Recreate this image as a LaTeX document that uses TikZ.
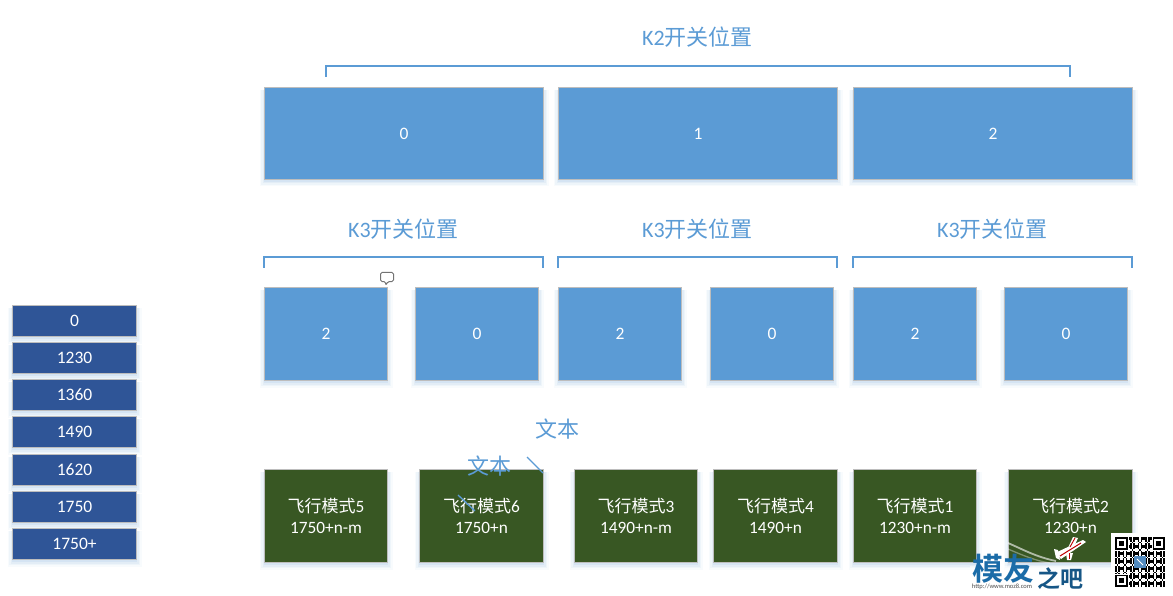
\documentclass[tikz,border=0pt]{standalone}
\usepackage{fontspec}
\setmainfont{Carlito}
\newfontfamily\cjk{Noto Sans CJK SC}
\newfontfamily\cjkb{Noto Sans CJK SC Bold}
\usetikzlibrary{positioning}
\definecolor{cblue}{HTML}{5B9BD5}
\definecolor{cgreen}{HTML}{385723}
\definecolor{cnavy}{HTML}{2F5597}
\definecolor{cedge}{HTML}{BDBDBD}
\definecolor{cshadow}{HTML}{5B9BD5}
\definecolor{clogo}{HTML}{1B6CA8}
\tikzset{
  x=1pt,y=-1pt,
  cell/.style={draw=cedge,line width=0.9pt,inner sep=0pt,align=center,text=white,font=\fontsize{17.5}{20}\selectfont},
  bluecell/.style={cell,fill=cblue},
  greencell/.style={cell,fill=cgreen,font=\fontsize{17.3}{21.5}\selectfont},
  navycell/.style={cell,fill=cnavy,font=\fontsize{17.5}{20}\selectfont},
  bracketline/.style={draw=cblue,line width=2pt,line join=miter},
  bluetext/.style={text=cblue,inner sep=0pt,font=\fontsize{22}{24}\selectfont},
  strokeline/.style={draw=cblue,line width=1.3pt},
  qr/.style={fill=black,draw=none},
}
\newcommand{\bx}[7]{%
  \pgfmathsetmacro{\bw}{#4-#2-0.9}\pgfmathsetmacro{\bh}{#5-#3-0.9}%
  \pgfmathsetmacro{\bcx}{(#2+#4)/2}\pgfmathsetmacro{\bcy}{(#3+#5)/2}%
  \foreach \o/\a in {1/0.10,2.5/0.08,4/0.06,5.5/0.04}{%
    \fill[cshadow,opacity=\a] (#2-\o+1,#3+3) rectangle (#4+\o-1,#5+\o+1);}%
  \node[#6,minimum width=\bw pt,minimum height=\bh pt] (#1) at (\bcx,\bcy) {#7};}
\newcommand{\brk}[4]{%
  \coordinate (#1l) at (#2,#4); \coordinate (#1r) at (#3,#4);
  \draw[bracketline] (#1l) -- ++(0,-10.5) -| (#1r);}
\newcommand{\fm}[1]{{\cjk\fontsize{17}{21.5}\selectfont 飞行模式}#1}
\begin{document}
\begin{tikzpicture}
\useasboundingbox (0,0) rectangle (1173,596);
\fill[white] (0,0) rectangle (1173,596);
% top row
\bx{t0}{264}{87}{544}{180}{bluecell}{0}
\bx{t1}{558}{87}{838}{180}{bluecell}{1}
\bx{t2}{853}{87}{1133}{180}{bluecell}{2}
% middle row
\bx{m0}{264}{287}{388}{381}{bluecell}{2}
\bx{m1}{415}{287}{539}{381}{bluecell}{0}
\bx{m2}{558}{287}{682}{381}{bluecell}{2}
\bx{m3}{710}{287}{834}{381}{bluecell}{0}
\bx{m4}{853}{287}{977}{381}{bluecell}{2}
\bx{m5}{1004}{287}{1128}{381}{bluecell}{0}
% bottom row
\bx{b0}{264}{469}{388}{563}{greencell}{\fm{5}\\1750+n-m}
\bx{b1}{419}{469}{544}{563}{greencell}{\fm{6}\\1750+n}
\bx{b2}{574}{469}{698}{563}{greencell}{\fm{3}\\1490+n-m}
\bx{b3}{713}{469}{838}{563}{greencell}{\fm{4}\\1490+n}
\bx{b4}{853}{469}{977}{563}{greencell}{\fm{1}\\1230+n-m}
\bx{b5}{1008}{469}{1133}{563}{greencell}{\fm{2}\\1230+n}
% left column
\bx{l0}{12}{305}{137}{337}{navycell}{0}
\bx{l1}{12}{342}{137}{374}{navycell}{1230}
\bx{l2}{12}{379}{137}{411}{navycell}{1360}
\bx{l3}{12}{416}{137}{448}{navycell}{1490}
\bx{l4}{12}{454}{137}{486}{navycell}{1620}
\bx{l5}{12}{491}{137}{523}{navycell}{1750}
\bx{l6}{12}{528}{137}{560}{navycell}{1750+}
% brackets and headings
\brk{bk}{326}{1070}{77}
\brk{ba}{264}{543}{268}
\brk{bb}{558}{837}{268}
\brk{bc}{853}{1132}{268}
\node[bluetext] (hk2) at (697.5,37.5) {K2{\cjk 开关位置}};
\node[bluetext] (hk3a) at (403.5,229.5) {K3{\cjk 开关位置}};
\node[bluetext] (hk3b) at (697.5,229.5) {K3{\cjk 开关位置}};
\node[bluetext] (hk3c) at (992.5,229.5) {K3{\cjk 开关位置}};
% stray text and strokes
\node[bluetext] (w1) at (557.5,429) {\cjk 文本};
\node[bluetext] (w2) at (489,466) {\cjk 文本};
\coordinate (s1a) at (527,457); \coordinate (s1b) at (543,473);
\coordinate (s2a) at (458,495); \coordinate (s2b) at (475,511);
\draw[strokeline] (s1a) -- (s1b);
\draw[strokeline] (s2a) -- (s2b);
% comment icon
\draw[draw=gray!90!black,fill=white,line width=1pt,rounded corners=1.5pt]
  (380.5,272.5) -- (393.5,272.5) -- (393.5,281.5) -- (388,281.5) -- (385.5,285.5) -- (385.5,281.5) -- (380.5,281.5) -- cycle;
% watermark: swoosh and plane
\draw[white,opacity=.6,line width=1.8pt] (1008,543) .. controls (1022,549) and (1036,557) .. (1056,561);
\draw[white,opacity=.35,line width=1.3pt] (1008,549) .. controls (1022,555) and (1036,561) .. (1050,563);
\fill[white] (1055,553) -- (1083,540) -- (1086,542) -- (1061,559) -- cycle;
\fill[white] (1068,548) -- (1073,537) -- (1078,538) -- (1074,547) -- cycle;
\fill[white] (1066,553) -- (1073,553) -- (1071,560) -- (1067,560) -- cycle;
\fill[white] (1054,549) -- (1058,550) -- (1060,560) -- (1056,558) -- cycle;
\draw[red!75!black,line width=1pt] (1060,556) -- (1081,543);
\draw[red!75!black,line width=.9pt] (1070,547) -- (1075,538);
\draw[red!75!black,line width=.9pt] (1069,553) -- (1069,559);
% watermark: logo
\fill[white,opacity=.55] (970,566) rectangle (1090,596);
\node[inner sep=0pt,text=clogo,font=\cjkb\fontsize{31}{31}\selectfont] (lg1) at (1003.5,569) {模友};
\node[inner sep=0pt,text=clogo!80!black,font=\cjkb\fontsize{23}{23}\selectfont] (lg2) at (1060,579) {之吧};
\node[inner sep=0pt,text=black!70,font=\fontsize{6.5}{7}\selectfont] (lg3) at (1002,587) {http://www.moz8.com};
% watermark: QR code
\fill[white] (1111,533) rectangle (1173,596);
\foreach \i in {0,...,32}{\foreach \j in {0,...,32}{%
  \pgfmathtruncatemacro{\v}{mod(\i*\i*7+\j*\j*3+\i*\j*5+\i+2*\j,5)}%
  \ifnum\v<2 \fill[qr] ({1115+1.5*\i},{537+1.5*\j}) rectangle ++(1.5,1.5);\fi}}
\foreach \cx/\cy in {1115/537,1152.5/537,1115/574.5}{%
  \fill[white] (\cx-1,\cy-1) rectangle ++(14.5,14.5);
  \fill[qr] (\cx,\cy) rectangle ++(12.5,12.5);
  \fill[white] (\cx+1.8,\cy+1.8) rectangle ++(8.9,8.9);
  \fill[qr] (\cx+3.8,\cy+3.8) rectangle ++(4.9,4.9);}
\fill[cblue!90!black] (1134,556) rectangle ++(12,12);
\draw[white,line width=.8pt] (1137,559) -- (1143,565);
\end{tikzpicture}
\end{document}
